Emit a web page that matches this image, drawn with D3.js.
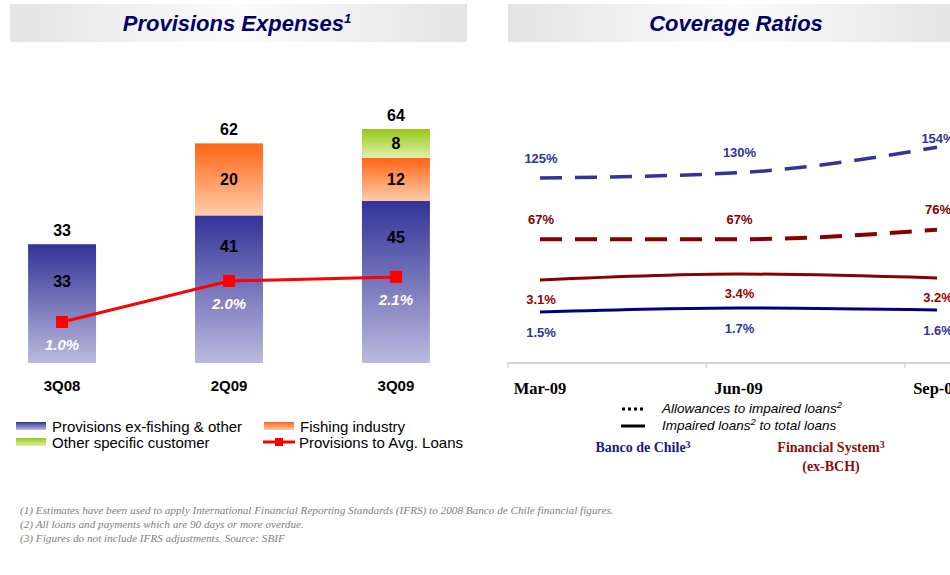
<!DOCTYPE html>
<html>
<head>
<meta charset="utf-8">
<script src="https://cdn.jsdelivr.net/npm/d3@7"></script>
<style>
  body { margin: 0; background: #fff; }
  svg { display: block; font-family: "Liberation Sans", Arial, sans-serif; }
  .title { font-size: 22px; font-weight: bold; font-style: italic; fill: #000066; }
  .val { font-size: 16px; font-weight: bold; fill: #000; }
  .cat { font-size: 15px; font-weight: bold; fill: #000; }
  .pct { font-size: 15px; font-weight: bold; font-style: italic; fill: #fff; }
  .leg { font-size: 15px; fill: #000; }
  .rlab { font-size: 13px; font-weight: bold; }
  .month { font-family: "Liberation Serif", "Times New Roman", serif; font-size: 16.5px; font-weight: bold; fill: #000; }
  .rleg { font-size: 13.5px; font-style: italic; fill: #000; }
  .bank { font-family: "Liberation Serif", "Times New Roman", serif; font-size: 14px; font-weight: bold; }
  .note { font-family: "Liberation Serif", "Times New Roman", serif; font-size: 11.2px; font-style: italic; fill: #808080; }
</style>
</head>
<body>
<div id="vis"></div>
<script>
// left panel data
var quarters = ["3Q08", "2Q09", "3Q09"],
    exFishing = [33, 41, 45],
    fishing = [0, 20, 12],
    otherCustomer = [0, 0, 8],
    totals = [33, 62, 64],
    provToLoans = [1.0, 2.0, 2.1];

// right panel data
var months = ["Mar-09", "Jun-09", "Sep-09"],
    bchAllowances = [125, 130, 154],
    sysAllowances = [67, 67, 76],
    sysImpaired = [3.1, 3.4, 3.2],
    bchImpaired = [1.5, 1.7, 1.6];

var footnotes = [
    "(1) Estimates have been used to apply International Financial Reporting Standards  (IFRS) to 2008 Banco de Chile financial figures.",
    "(2) All loans and payments which are 90 days or more overdue.",
    "(3) Figures do not include IFRS adjustments. Source: SBIF"
];

var w = 950, h = 575;

var svg = d3.select("#vis").append("svg")
    .attr("width", w)
    .attr("height", h);

var defs = svg.append("defs");

function vGrad(id, top, bottom) {
    var g = defs.append("linearGradient").attr("id", id)
        .attr("x1", 0).attr("y1", 0).attr("x2", 0).attr("y2", 1);
    g.append("stop").attr("offset", "0%").attr("stop-color", top);
    g.append("stop").attr("offset", "100%").attr("stop-color", bottom);
}
vGrad("gBlue", "#333399", "#babade");
vGrad("gOrange", "#ff6414", "#ffcdaa");
vGrad("gGreen", "#95c812", "#e0efb0");

var tg = defs.append("linearGradient").attr("id", "gTitle");
tg.append("stop").attr("offset", "0%").attr("stop-color", "#e4e4e4");
tg.append("stop").attr("offset", "50%").attr("stop-color", "#fbfbfb");
tg.append("stop").attr("offset", "100%").attr("stop-color", "#e4e4e4");

// title bars
function titleBar(x0, x1, label, cx) {
    svg.append("rect")
        .attr("x", x0).attr("y", 4)
        .attr("width", x1 - x0).attr("height", 38)
        .attr("fill", "url(#gTitle)");
    var t = svg.append("text")
        .attr("class", "title")
        .attr("x", cx).attr("y", 31)
        .attr("text-anchor", "middle")
        .text(label[0]);
    if (label[1]) {
        t.append("tspan").attr("font-size", "13px").attr("dy", -8).text(label[1]);
    }
}
titleBar(10, 467, ["Provisions Expenses", "1"], 237);
titleBar(508, 960, ["Coverage Ratios"], 736);

// ---------- Provisions Expenses ----------
var x = d3.scaleBand().domain(quarters)
    .range([-22, 480]).paddingInner(0.593).paddingOuter(0.3);
var y = d3.scaleLinear().domain([0, 70]).range([363, 111]);
var yPct = d3.scaleLinear().domain([0, 6]).range([363, 117]);

var rows = quarters.map(function(q, i) {
    return { q: q, exFishing: exFishing[i], fishing: fishing[i], other: otherCustomer[i] };
});
var keys = ["exFishing", "fishing", "other"],
    fills = { exFishing: "url(#gBlue)", fishing: "url(#gOrange)", other: "url(#gGreen)" };
var stacked = d3.stack().keys(keys)(rows);

var left = svg.append("g");

stacked.forEach(function(layer) {
    left.selectAll(".bar-" + layer.key)
        .data(layer.filter(function(d) { return d[1] - d[0] > 0; }))
        .enter().append("rect")
        .attr("x", function(d) { return x(d.data.q); })
        .attr("y", function(d) { return y(d[1]); })
        .attr("width", x.bandwidth())
        .attr("height", function(d) { return y(d[0]) - y(d[1]); })
        .attr("fill", fills[layer.key]);
});

// segment labels (blue label sits between bar top and the ratio line)
stacked.forEach(function(layer) {
    left.selectAll(".lab-" + layer.key)
        .data(layer.filter(function(d) { return d[1] - d[0] > 0; }))
        .enter().append("text")
        .attr("class", "val")
        .attr("text-anchor", "middle")
        .attr("dy", "0.35em")
        .attr("x", function(d) { return x(d.data.q) + x.bandwidth() / 2; })
        .attr("y", function(d, i) {
            if (layer.key == "exFishing") {
                var idx = quarters.indexOf(d.data.q);
                return (y(d[1]) + yPct(provToLoans[idx])) / 2 - 2;
            }
            return (y(d[0]) + y(d[1])) / 2;
        })
        .text(function(d) { return d[1] - d[0]; });
});

// totals
left.selectAll(".total")
    .data(quarters)
    .enter().append("text")
    .attr("class", "val")
    .attr("text-anchor", "middle")
    .attr("x", function(d) { return x(d) + x.bandwidth() / 2; })
    .attr("y", function(d, i) { return y(stacked[2][i][1]) - 8; })
    .text(function(d, i) { return totals[i]; });

// category labels
left.selectAll(".cat")
    .data(quarters)
    .enter().append("text")
    .attr("class", "cat")
    .attr("text-anchor", "middle")
    .attr("x", function(d) { return x(d) + x.bandwidth() / 2; })
    .attr("y", 391)
    .text(String);

// provisions to avg loans line
var pctLine = d3.line()
    .x(function(d, i) { return x(quarters[i]) + x.bandwidth() / 2; })
    .y(function(d) { return yPct(d); });

left.append("path")
    .datum(provToLoans)
    .attr("d", pctLine)
    .attr("fill", "none")
    .attr("stroke", "#ff0000")
    .attr("stroke-width", 3);

left.selectAll(".mark")
    .data(provToLoans)
    .enter().append("rect")
    .attr("x", function(d, i) { return x(quarters[i]) + x.bandwidth() / 2 - 6; })
    .attr("y", function(d) { return yPct(d) - 6; })
    .attr("width", 12).attr("height", 12)
    .attr("fill", "#ff0000");

left.selectAll(".pct")
    .data(provToLoans)
    .enter().append("text")
    .attr("class", "pct")
    .attr("text-anchor", "middle")
    .attr("x", function(d, i) { return x(quarters[i]) + x.bandwidth() / 2; })
    .attr("y", function(d) { return yPct(d) + 28; })
    .text(function(d) { return d.toFixed(1) + "%"; });

// legend
var legItems = [
    { label: "Provisions ex-fishing & other", fill: "url(#gBlue)", lx: 16, ly: 427 },
    { label: "Fishing industry", fill: "url(#gOrange)", lx: 264, ly: 427 },
    { label: "Other specific customer", fill: "url(#gGreen)", lx: 16, ly: 443 },
    { label: "Provisions to Avg. Loans", line: true, lx: 263, ly: 443 }
];
legItems.forEach(function(d) {
    var g = left.append("g").attr("transform", "translate(" + d.lx + "," + d.ly + ")");
    if (d.line) {
        g.append("line").attr("x1", 0).attr("x2", 32).attr("y1", -1).attr("y2", -1)
            .attr("stroke", "#ff0000").attr("stroke-width", 3);
        g.append("rect").attr("x", 12).attr("y", -5).attr("width", 8).attr("height", 8)
            .attr("fill", "#ff0000");
    } else {
        g.append("rect").attr("x", 0).attr("y", -5).attr("width", 30).attr("height", 8)
            .attr("fill", d.fill);
    }
    g.append("text").attr("class", "leg").attr("x", 36).attr("y", 5).text(d.label);
});

// ---------- Coverage Ratios ----------
var right = svg.append("g");

var xr = d3.scalePoint().domain(months).range([540, 937]);
var yAllow = d3.scaleLinear().domain([0, 160]).range([310, 141]);
var yImp = d3.scaleLinear().domain([0, 5]).range([342, 242]);

// axis
right.append("line")
    .attr("x1", 508).attr("x2", 960)
    .attr("y1", 363).attr("y2", 363)
    .attr("stroke", "#d4d4d4").attr("stroke-width", 2);

right.selectAll(".xTick")
    .data(months)
    .enter().append("line")
    .attr("x1", function(d) { return xr(d) - 32; })
    .attr("x2", function(d) { return xr(d) - 32; })
    .attr("y1", 362).attr("y2", 368)
    .attr("stroke", "#d4d4d4").attr("stroke-width", 1.5);

right.selectAll(".month")
    .data(months)
    .enter().append("text")
    .attr("class", "month")
    .attr("text-anchor", "middle")
    .attr("x", function(d) { return xr(d); })
    .attr("y", 394)
    .text(String);

var series = [
    { vals: bchAllowances, scale: yAllow, color: "#333399", lab: "#333399", dash: "22,13", width: 3.5, off: -20, fmt: function(v) { return v + "%"; } },
    { vals: sysAllowances, scale: yAllow, color: "#880000", lab: "#880000", dash: "22,13", width: 4, off: -20, fmt: function(v) { return v + "%"; } },
    { vals: sysImpaired, scale: yImp, color: "#880000", lab: "#990000", dash: null, width: 3, off: 19, fmt: function(v) { return v.toFixed(1) + "%"; } },
    { vals: bchImpaired, scale: yImp, color: "#000080", lab: "#333399", dash: null, width: 3, off: 20, fmt: function(v) { return v.toFixed(1) + "%"; } }
];

series.forEach(function(s, si) {
    var ln = d3.line()
        .x(function(d, i) { return xr(months[i]); })
        .y(function(d) { return s.scale(d); })
        .curve(d3.curveMonotoneX);
    right.append("path")
        .datum(s.vals)
        .attr("d", ln)
        .attr("fill", "none")
        .attr("stroke", s.color)
        .attr("stroke-width", s.width)
        .attr("stroke-dasharray", s.dash);
    right.selectAll(".lab" + si)
        .data(s.vals)
        .enter().append("text")
        .attr("class", "rlab")
        .attr("fill", s.lab)
        .attr("text-anchor", "middle")
        .attr("dy", "0.35em")
        .attr("x", function(d, i) { return xr(months[i]) + 1; })
        .attr("y", function(d, i) {
            // last blue label hugs the line near the edge
            var off = (si == 0 && i == s.vals.length - 1) ? -9 : s.off;
            return s.scale(d) + off;
        })
        .text(s.fmt);
});

// right legend
var rl = right.append("g");
rl.append("line").attr("x1", 622).attr("x2", 644).attr("y1", 409).attr("y2", 409)
    .attr("stroke", "#000").attr("stroke-width", 3).attr("stroke-dasharray", "3,3");
rl.append("line").attr("x1", 621).attr("x2", 645).attr("y1", 426).attr("y2", 426)
    .attr("stroke", "#000").attr("stroke-width", 3);
var t1 = rl.append("text").attr("class", "rleg").attr("x", 662).attr("y", 413).text("Allowances to impaired loans");
t1.append("tspan").attr("font-size", "9.5px").attr("dy", -5).text("2");
var t2 = rl.append("text").attr("class", "rleg").attr("x", 662).attr("y", 430).text("Impaired loans");
t2.append("tspan").attr("font-size", "9.5px").attr("dy", -5).text("2");
t2.append("tspan").attr("dy", 5).text(" to total loans");

var b1 = rl.append("text").attr("class", "bank").attr("fill", "#1a1a80")
    .attr("x", 643).attr("y", 452).attr("text-anchor", "middle").text("Banco de Chile");
b1.append("tspan").attr("font-size", "10px").attr("dy", -4).text("3");
var b2 = rl.append("text").attr("class", "bank").attr("fill", "#8b1010")
    .attr("x", 831).attr("y", 452).attr("text-anchor", "middle").text("Financial System");
b2.append("tspan").attr("font-size", "10px").attr("dy", -4).text("3");
rl.append("text").attr("class", "bank").attr("fill", "#8b1010")
    .attr("x", 831).attr("y", 471).attr("text-anchor", "middle").text("(ex-BCH)");

// footnotes
svg.selectAll(".note")
    .data(footnotes)
    .enter().append("text")
    .attr("class", "note")
    .attr("x", 20)
    .attr("y", function(d, i) { return 514 + i * 14; })
    .text(String);
</script>
</body>
</html>
